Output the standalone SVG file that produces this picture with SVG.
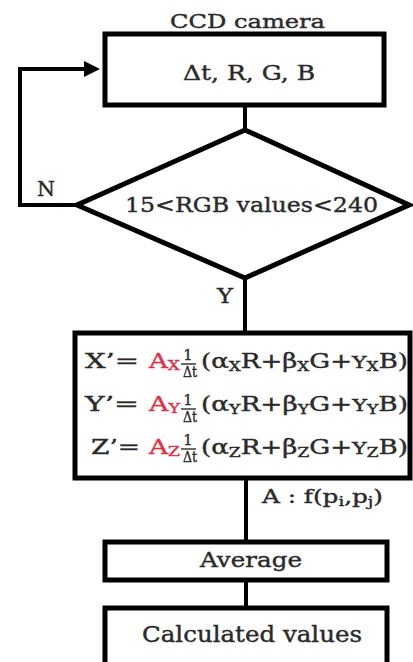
<svg xmlns="http://www.w3.org/2000/svg" width="413" height="662" viewBox="0 0 413 662">
<defs>
<style>
.box{fill:none;stroke:#000;stroke-width:5}
.ln{fill:none;stroke:#000;stroke-width:4}
text{font-family:"DejaVu Serif","Liberation Serif",serif;fill:#2a2a2a;stroke:#2a2a2a;stroke-width:0.4}
.t{font-size:21px}
.fm{font-size:20px}
.red{fill:#d8344b;stroke:#d8344b}
.sb{font-size:13px}
.gy{font-size:17px}
.fr{font-size:14px}
.bar{stroke:#2a2a2a;stroke-width:1.4}
</style>
<marker id="ah" markerWidth="4" markerHeight="4" refX="3" refY="2" orient="auto" markerUnits="strokeWidth">
<path d="M0,0 L4,2 L0,4 Z" fill="#000"/>
</marker>
</defs>
<rect width="413" height="662" fill="#fff"/>
<g id="connectors">
<path class="ln" d="M77,205 H20 V69 H96" marker-end="url(#ah)"/>
<path class="ln" d="M245,106 V130"/>
<path class="ln" d="M245,278 V333"/>
<path class="ln" d="M246,478 V542"/>
<path class="ln" d="M246,580 V608"/>
<text class="t" x="37" y="196" textLength="18" lengthAdjust="spacingAndGlyphs">N</text>
<text class="t" x="217" y="303" textLength="16" lengthAdjust="spacingAndGlyphs">Y</text>
</g>
<g id="ccd">
<text class="t" x="170" y="28" style="font-size:19px" textLength="155" lengthAdjust="spacingAndGlyphs">CCD camera</text>
<rect class="box" x="105" y="34" width="279" height="71"/>
<text class="t" x="183" y="80" textLength="132" lengthAdjust="spacingAndGlyphs">Δt, R, G, B</text>
</g>
<g id="decision">
<polygon class="box" points="245,130 409,205 245,278 77,205"/>
<text class="t" x="125" y="212" textLength="253" lengthAdjust="spacingAndGlyphs">15&lt;RGB values&lt;240</text>
</g>
<g id="formula">
<rect class="box" x="75" y="333" width="335" height="145"/>
<text class="fm" x="85" y="368" textLength="54" lengthAdjust="spacingAndGlyphs">X’=</text>
<text class="fm red" x="149" y="368" textLength="31" lengthAdjust="spacingAndGlyphs">A<tspan class="sb" dy="2">X</tspan></text>
<text class="fr" x="188" y="360" text-anchor="middle">1</text>
<line class="bar" x1="181" y1="364" x2="196" y2="364"/>
<text class="fr" x="183" y="377" textLength="14" lengthAdjust="spacingAndGlyphs">Δt</text>
<text class="fm" x="201" y="368" textLength="207" lengthAdjust="spacingAndGlyphs">(α<tspan class="sb" dy="3">X</tspan><tspan dy="-3">R+β</tspan><tspan class="sb" dy="3">X</tspan><tspan dy="-3">G+</tspan><tspan class="gy">Y</tspan><tspan class="sb" dy="3">X</tspan><tspan dy="-3">B)</tspan></text>

<text class="fm" x="85" y="411" textLength="54" lengthAdjust="spacingAndGlyphs">Y’=</text>
<text class="fm red" x="149" y="411" textLength="31" lengthAdjust="spacingAndGlyphs">A<tspan class="sb" dy="2">Y</tspan></text>
<text class="fr" x="188" y="405" text-anchor="middle">1</text>
<line class="bar" x1="181" y1="409" x2="196" y2="409"/>
<text class="fr" x="183" y="422" textLength="14" lengthAdjust="spacingAndGlyphs">Δt</text>
<text class="fm" x="201" y="411" textLength="207" lengthAdjust="spacingAndGlyphs">(α<tspan class="sb" dy="3">Y</tspan><tspan dy="-3">R+β</tspan><tspan class="sb" dy="3">Y</tspan><tspan dy="-3">G+</tspan><tspan class="gy">Y</tspan><tspan class="sb" dy="3">Y</tspan><tspan dy="-3">B)</tspan></text>

<text class="fm" x="91" y="454" textLength="49" lengthAdjust="spacingAndGlyphs">Z’=</text>
<text class="fm red" x="149" y="454" textLength="31" lengthAdjust="spacingAndGlyphs">A<tspan class="sb" dy="2">Z</tspan></text>
<text class="fr" x="188" y="445" text-anchor="middle">1</text>
<line class="bar" x1="181" y1="449" x2="196" y2="449"/>
<text class="fr" x="183" y="462" textLength="14" lengthAdjust="spacingAndGlyphs">Δt</text>
<text class="fm" x="201" y="454" textLength="207" lengthAdjust="spacingAndGlyphs">(α<tspan class="sb" dy="3">Z</tspan><tspan dy="-3">R+β</tspan><tspan class="sb" dy="3">Z</tspan><tspan dy="-3">G+</tspan><tspan class="gy">Y</tspan><tspan class="sb" dy="3">Z</tspan><tspan dy="-3">B)</tspan></text>
</g>
<g id="afunc">
<text class="t" x="262" y="503" style="font-size:18px" textLength="121" lengthAdjust="spacingAndGlyphs">A : f(p<tspan class="sb" dy="3">i</tspan><tspan dy="-3">,p</tspan><tspan class="sb" dy="3">j</tspan><tspan dy="-3">)</tspan></text>
</g>
<g id="average">
<rect class="box" x="105" y="542" width="282" height="38"/>
<text class="t" x="200" y="567" textLength="102" lengthAdjust="spacingAndGlyphs">Average</text>
</g>
<g id="calculated">
<rect class="box" x="105" y="608" width="282" height="60"/>
<text class="t" x="142" y="642" style="font-size:22px" textLength="220" lengthAdjust="spacingAndGlyphs">Calculated values</text>
</g>
</svg>
